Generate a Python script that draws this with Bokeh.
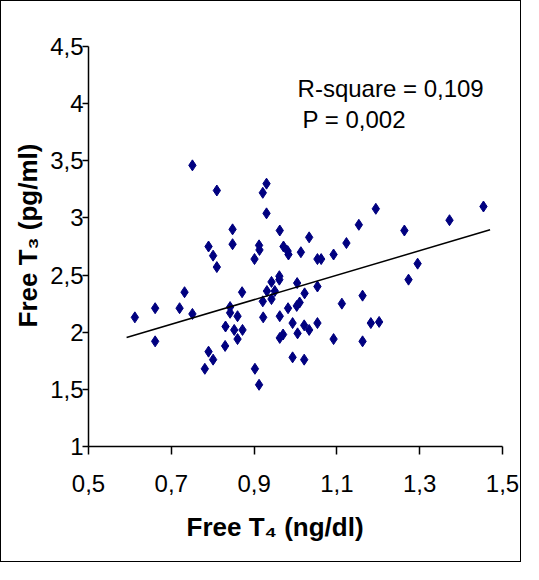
from bokeh.plotting import figure
from bokeh.models import FixedTicker, Label, Title
from bokeh.embed import file_html
from bokeh.resources import INLINE

# Free T4 (ng/dl) and Free T3 (pg/ml) per subject
free_t4 = [0.751, 0.810, 0.848, 0.848, 0.790, 0.801, 0.810, 0.732,
           0.930, 0.921, 0.930, 0.962, 1.033, 1.153, 0.912, 0.913,
           0.901, 0.971, 0.981, 0.983, 1.013, 1.053, 1.062, 1.092,
           1.123, 0.961, 0.961, 0.942, 1.004, 1.053, 0.871, 0.931,
           0.950, 1.022, 1.162, 0.921, 0.942, 1.194, 1.454, 1.372,
           1.263, 1.295, 1.273, 0.612, 0.661, 0.720, 0.751, 0.661,
           0.842, 0.842, 0.831, 0.790, 0.801, 0.781, 0.830, 0.860,
           0.852, 0.872, 0.860, 0.922, 0.962, 0.982, 1.003, 1.010,
           0.993, 1.021, 1.033, 1.053, 1.005, 0.962, 0.970, 0.993,
           1.021, 0.902, 0.912, 1.112, 1.092, 1.162, 1.182, 1.202,
           1.440]
free_t3 = [3.46, 3.24, 2.90, 2.77, 2.75, 2.67, 2.57, 2.35,
           3.30, 3.22, 3.04, 2.89, 2.83, 2.94, 2.76, 2.72,
           2.64, 2.75, 2.71, 2.68, 2.70, 2.64, 2.64, 2.68,
           2.78, 2.49, 2.46, 2.44, 2.43, 2.40, 2.35, 2.36,
           2.36, 2.34, 2.32, 2.27, 2.29, 3.08, 3.10, 2.98,
           2.89, 2.60, 2.46, 2.13, 2.21, 2.21, 2.16, 1.92,
           2.22, 2.17, 2.05, 1.83, 1.76, 1.68, 1.88, 2.14,
           2.02, 2.02, 1.94, 2.13, 2.14, 2.21, 2.23, 2.26,
           2.08, 2.06, 2.02, 2.08, 1.99, 1.95, 1.98, 1.78,
           1.76, 1.68, 1.54, 2.25, 1.94, 1.92, 2.08, 2.09,
           4.11]

# linear trend line end points
trend_t4 = [0.592, 1.470]
trend_t3 = [1.954, 2.896]

x_ticks = [0.5, 0.7, 0.9, 1.1, 1.3, 1.5]
x_tick_labels = ["0,5", "0,7", "0,9", "1,1", "1,3", "1,5"]
y_ticks = [1.0, 1.5, 2.0, 2.5, 3.0, 3.5, 4.0, 4.5]
y_tick_labels = ["1", "1,5", "2", "2,5", "3", "3,5", "4", "4,5"]

stats_text = ["R-square = 0,109", "P = 0,002"]
x_title = "Free T\u2084 (ng/dl)"
y_title = "Free T\u2083 (pg/ml)"

FONT = "Liberation Sans"

p = figure(width=521, height=562, x_range=(0.5, 1.5), y_range=(1, 4.5),
           output_backend="svg", toolbar_location=None,
           min_border_left=87, min_border_right=20,
           min_border_top=45, min_border_bottom=117)
p.styles = {"border": "1px solid black"}
p.outline_line_color = None
p.xgrid.visible = False
p.ygrid.visible = False
p.background_fill_color = "white"
p.border_fill_color = "white"

p.xaxis.ticker = FixedTicker(ticks=x_ticks)
p.yaxis.ticker = FixedTicker(ticks=y_ticks)
p.xaxis.major_label_overrides = dict(zip(x_ticks, x_tick_labels))
p.yaxis.major_label_overrides = dict(zip(y_ticks, y_tick_labels))

for ax in (p.xaxis, p.yaxis):
    ax.axis_line_color = "black"
    ax.axis_line_width = 1.5
    ax.major_tick_line_color = "black"
    ax.major_tick_line_width = 1.5
    ax.major_tick_in = 0
    ax.minor_tick_line_color = None
    ax.major_label_text_font = FONT
    ax.major_label_text_font_size = "24px"
    ax.major_label_text_color = "black"
p.xaxis.major_tick_out = 8
p.yaxis.major_tick_out = 6
p.xaxis.major_label_standoff = 20
p.yaxis.major_label_standoff = -1

p.scatter(free_t4, free_t3, marker="diamond", size=11,
          fill_color="#000080", line_color="#000080")
p.line(trend_t4, trend_t3, line_color="black", line_width=1.5)

p.add_layout(Label(x=1.005, y=4.132, text=stats_text[0], text_baseline="middle",
                   text_font=FONT, text_font_size="24px", text_color="black",
                   background_fill_color="white"))
p.add_layout(Label(x=1.017, y=3.861, text=stats_text[1], text_baseline="middle",
                   text_font=FONT, text_font_size="24px", text_color="black",
                   background_fill_color="white"))

p.add_layout(Title(text=x_title, align="left", offset=98, standoff=30,
                   text_font=FONT, text_font_size="26px", text_font_style="bold",
                   text_color="black"), "below")
p.add_layout(Title(text=y_title, align="left", offset=119, standoff=10,
                   text_font=FONT, text_font_size="26px", text_font_style="bold",
                   text_color="black"), "left")

open("out.html", "w").write(file_html(p, INLINE))
